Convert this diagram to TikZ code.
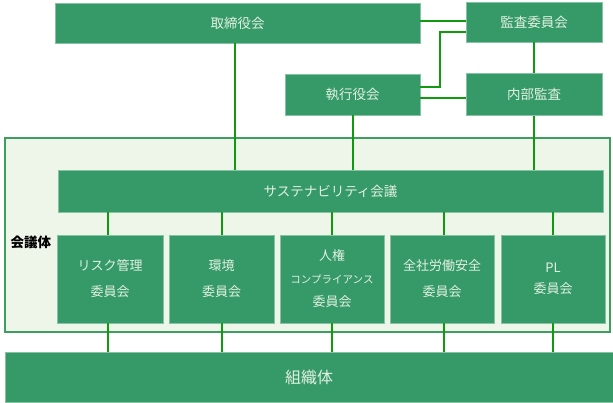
\documentclass[tikz,border=0pt]{standalone}
\usepackage{fontspec}
\setmainfont{Noto Sans CJK JP}
\usetikzlibrary{calc}
\definecolor{boxgreen}{HTML}{359A68}
\definecolor{boxtext}{HTML}{E2F0E2}
\definecolor{linegreen}{HTML}{109A10}
\definecolor{panelfill}{HTML}{EEF5E9}
\definecolor{panelline}{HTML}{3E9E62}
\begin{document}
\begin{tikzpicture}[x=1pt,y=-1pt,
  gbox/.style={fill=boxgreen,draw=boxgreen!60!white,line width=0.6pt,text=boxtext,inner sep=0pt,
    font=\fontsize{13.5}{26}\selectfont,align=center},
  cbox/.style={gbox,minimum height=88,font=\fontsize{13}{26}\selectfont},
  conn/.style={draw=linegreen,line width=2pt}]
\useasboundingbox (0,0) rectangle (613,402);
% panel
\node[fill=panelfill,draw=panelline,line width=2pt,minimum width=605,minimum height=194,inner sep=0pt] (panel) at (307.5,235) {};
\node[font=\bfseries\fontsize{13.5}{15}\selectfont,anchor=west] (lbl) at (7,242) {会議体};
% top
\node[gbox,minimum width=365,minimum height=40] (board) at (237.5,23) {取締役会};
\node[gbox,minimum width=136,minimum height=40] (audit) at (534,22) {監査委員会};
\node[gbox,minimum width=135,minimum height=41] (exec) at (352.5,94.5) {執行役会};
\node[gbox,minimum width=136,minimum height=42] (internal) at (534,94.5) {内部監査};
% sustainability
\node[gbox,minimum width=545,minimum height=42] (sus) at (330.5,191) {サステナビリティ会議};
% committees
\node[cbox,minimum width=106] (c1) at (110,279) {リスク管理\\委員会};
\node[cbox,minimum width=105] (c2) at (221.5,279) {環境\\委員会};
\node[cbox,minimum width=104,font=\fontsize{13}{23}\selectfont] (c3) at (332,279) {人権\\{\fontsize{10.5}{23}\selectfont コンプライアンス}\\委員会};
\node[cbox,minimum width=104] (c4) at (442,279) {全社労働安全\\委員会};
\node[cbox,minimum width=104,font=\fontsize{13}{21}\selectfont] (c5) at (553,279) {PL\\委員会};
% organization
\node[gbox,minimum width=608,minimum height=50,font=\fontsize{16}{18}\selectfont] (org) at (309,377) {組織体};
% connectors top
\coordinate (a1) at (440,87);
\coordinate (a2) at (440,32);
\draw[conn] (board.east |- 0,21) -- (audit.west |- 0,21);
\draw[conn] (exec.east |- a1) -- (a1) -- (a2) -- (audit.west |- a2);
\draw[conn] (exec.east |- 0,98) -- (internal.west |- 0,98);
\draw[conn] (audit.south) -- (internal.north);
\draw[conn] (board.south -| 235,0) -- (sus.north -| 235,0);
\draw[conn] (exec.south) -- (exec.south |- sus.north);
\draw[conn] (internal.south) -- (internal.south |- sus.north);
% connectors committees
\foreach \c/\xx in {c1/108,c2/222,c3/332,c4/444,c5/553}{
  \draw[conn] (sus.south -| \xx,0) -- (\c.north -| \xx,0);
  \draw[conn] (\c.south -| \xx,0) -- (org.north -| \xx,0);
}
\end{tikzpicture}
\end{document}
